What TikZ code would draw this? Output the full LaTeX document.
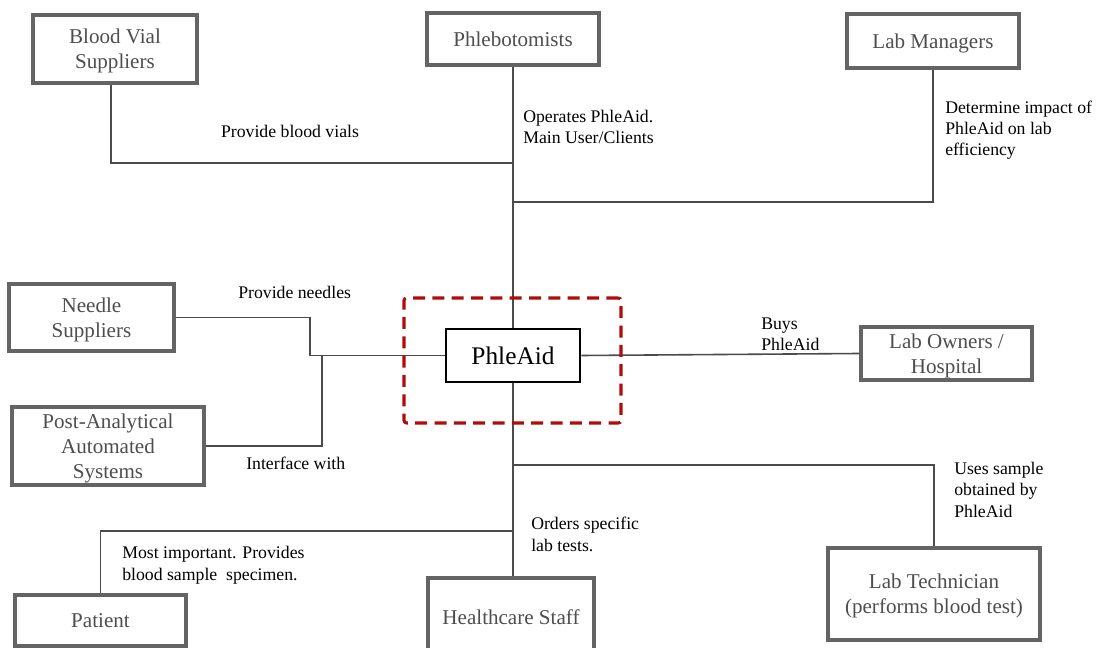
\documentclass[tikz,border=0pt]{standalone}
\usepackage{fontspec}
\setmainfont{Liberation Serif}
\definecolor{boxgray}{RGB}{100,100,100}
\definecolor{textgray}{RGB}{78,78,78}
\definecolor{linegray}{RGB}{75,75,75}
\definecolor{focusred}{RGB}{175,12,12}
\begin{document}
\begin{tikzpicture}[x=0.75pt,y=-0.75pt,
  box/.style={draw=boxgray, line width=2.3pt, fill=white, inner sep=0pt, text=textgray,
    font=\fontsize{15.8}{18.75}\selectfont, align=center, text depth=-3.5pt},
  wire/.style={draw=linegray, line width=1.2pt},
  lbl/.style={inner sep=0pt, font=\fontsize{13.3}{16}\selectfont, align=left, anchor=base west, text=black},
  focus/.style={draw=focusred, line width=2.3pt, dash pattern=on 9pt off 5.5pt, rounded corners=2pt, inner sep=0pt}
]
\useasboundingbox (0,0) rectangle (1099,648);
\clip (0,0) rectangle (1099,648);
\fill[white] (0,0) rectangle (1099,648);

% boxes
\node[box, minimum width=123pt, minimum height=51pt] (bvs) at (115,49) {Blood Vial\\Suppliers};
\node[box, minimum width=129pt, minimum height=39pt] (phl) at (513,39) {Phlebotomists};
\node[box, minimum width=129pt, minimum height=40.5pt] (lm) at (933,41) {Lab Managers};
\node[box, minimum width=123.75pt, minimum height=50.25pt] (ns) at (91.5,317.5) {Needle\\Suppliers};
\node[box, minimum width=144pt, minimum height=58.5pt] (pa) at (108,446) {Post-Analytical\\Automated\\Systems};
\node[box, draw=black, text=black, line width=2pt, minimum width=100.5pt, minimum height=39.75pt,
  font=\fontsize{19}{22}\selectfont, text depth=-6pt] (pha) at (513,355.5) {PhleAid};
\node[box, minimum width=128.25pt, minimum height=39.75pt] (lo) at (946.5,353.5) {Lab Owners /\\Hospital};
\node[box, minimum width=128.25pt, minimum height=38.25pt] (pat) at (100.5,620.5) {Patient};
\node[box, minimum width=124.5pt, minimum height=58.5pt] (hs) at (511,617) {Healthcare Staff};
\node[box, minimum width=159pt, minimum height=69pt] (lt) at (934,594) {Lab Technician\\(performs blood test)};

% junctions
\coordinate (jb) at (513,163);
\coordinate (jl) at (513,202);
\coordinate (kn) at (310,355.5);
\coordinate (kp) at (322,355.5);
\coordinate (jt) at (513,465);
\coordinate (jp) at (513,531);

% connectors
\draw[wire] (phl.south) -- (pha.north);
\draw[wire] ([xshift=-3pt]bvs.south) |- (jb);
\draw[wire] (lm.south) |- (jl);
\draw[wire] (ns.east) -| (kn) -- (pha.west);
\draw[wire] (pa.east) -| (kp);
\draw[wire] (pha.east) -- (lo.west);
\draw[wire] (pha.south) -- (pha.south |- hs.north);
\draw[wire] (jt) -| (lt.north);
\draw[wire] (jp) -| (pat.north);

% focus frame
\node[focus, minimum width=162.75pt, minimum height=93.75pt] (frame) at (512.5,360.5) {};

% labels (anchored at the baseline of the last line)
\node[lbl, anchor=base] (l1) at (290,138) {Provide blood vials};
\node[lbl] (l2) at (523,144) {Operates PhleAid.\\Main User/Clients};
\node[lbl] (l3) at (945,156) {Determine impact of\\PhleAid on lab\\efficiency};
\node[lbl] (l4) at (238,299) {Provide needles};
\node[lbl] (l5) at (246,469) {Interface with};
\node[lbl] (l6) at (761,351) {Buys\\PhleAid};
\node[lbl] (l7) at (954,517) {Uses sample\\obtained by\\PhleAid};
\node[lbl] (l8) at (531,551) {Orders specific\\lab tests.};
\node[lbl] (l9) at (122,580) {Most important. Provides\\blood sample\ \ specimen.};
\end{tikzpicture}
\end{document}
